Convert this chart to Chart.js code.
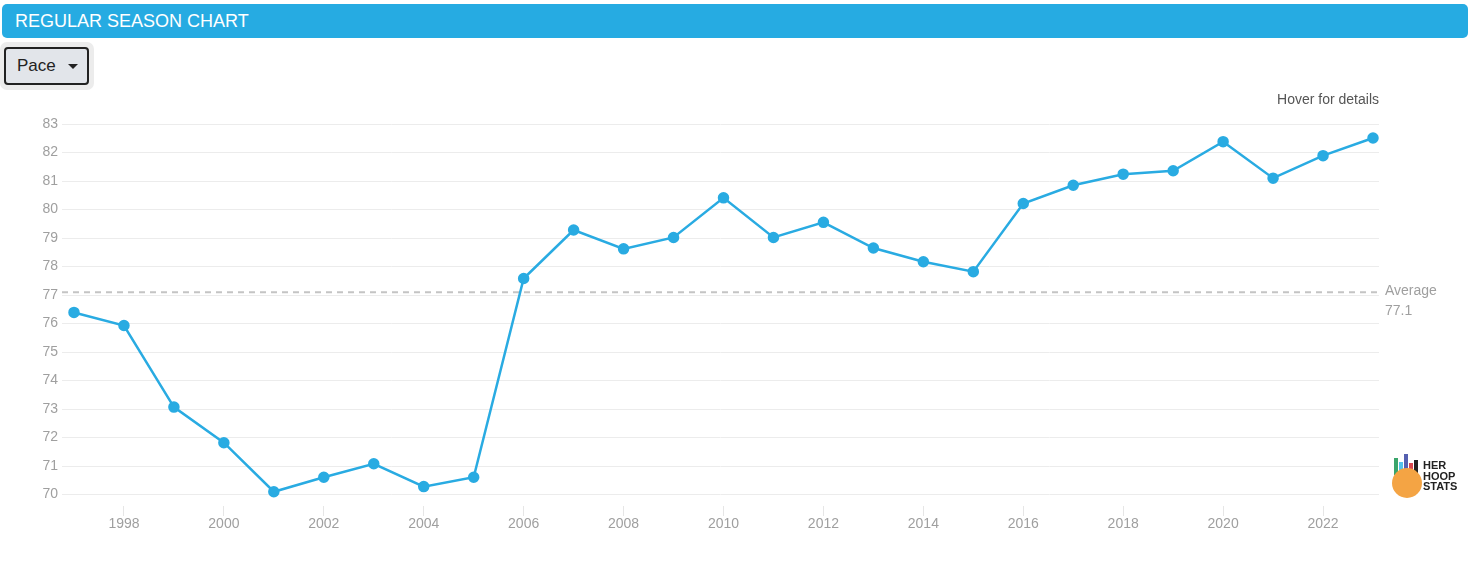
<!DOCTYPE html>
<html>
<head>
<meta charset="utf-8">
<script src="https://cdn.jsdelivr.net/npm/chart.js@4.4.1/dist/chart.umd.min.js"></script>
<style>
  body { margin: 0; background: #fff; font-family: "Liberation Sans", Arial, sans-serif; }
  #wrap { position: relative; width: 1470px; height: 561px; overflow: hidden; }
  #chartBox { position: absolute; left: 0; top: 0; width: 1470px; height: 561px; }
  .header {
    position: absolute; left: 2px; top: 4px; width: 1466px; height: 34px;
    background: #26abe2; border-radius: 5px; color: #fff;
    font-size: 18px; line-height: 34px; padding-left: 13px; box-sizing: border-box;
  }
  .halo {
    position: absolute; left: 0; top: 42px; width: 94px; height: 48px;
    background: #ececec; border-radius: 7px;
  }
  .btn {
    position: absolute; left: 4px; top: 47px; width: 85px; height: 38px;
    background: #e2e5ea; border: 2px solid #222; border-radius: 4px; box-sizing: border-box;
    font-size: 17px; color: #222; line-height: 34px; padding-left: 11px;
  }
  .caret {
    position: absolute; left: 62px; top: 15px; width: 0; height: 0;
    border-left: 5px solid transparent; border-right: 5px solid transparent; border-top: 5px solid #222;
  }
  .hover { position: absolute; right: 91px; top: 91px; font-size: 14px; color: #555; }
  .logo { position: absolute; left: 1392px; top: 452px; width: 70px; height: 50px; }
  .logo .bar { position: absolute; width: 4px; bottom: 27px; }
  .logo .ball {
    position: absolute; left: 0; top: 16px; width: 30px; height: 30px; border-radius: 50%;
    background: #f4a444; overflow: hidden;
  }
  .logo .txt {
    position: absolute; left: 31px; top: 8px; font-size: 11px; font-weight: bold; line-height: 10.5px; color: #222;
  }
</style>
</head>
<body>
<div id="wrap">
  <div id="chartBox"><canvas id="paceChart"></canvas></div>
  <div class="header">REGULAR SEASON CHART</div>
  <div class="halo"></div>
  <div class="btn">Pace<span class="caret"></span></div>
  <div class="hover">Hover for details</div>
  <div class="logo">
    <div class="bar" style="left:2px;height:17px;background:#3aa56b"></div>
    <div class="bar" style="left:7px;height:13px;background:#55c3ea"></div>
    <div class="bar" style="left:12px;height:21px;background:#5560b0"></div>
    <div class="bar" style="left:17px;height:12px;background:#d9474f"></div>
    <div class="bar" style="left:22px;height:15px;background:#222"></div>
    <div class="ball"></div>
    <div class="txt">HER<br>HOOP<br>STATS</div>
  </div>
</div>
<script>
const seasons = [1997, 1998, 1999, 2000, 2001, 2002, 2003, 2004, 2005, 2006, 2007, 2008, 2009,
  2010, 2011, 2012, 2013, 2014, 2015, 2016, 2017, 2018, 2019, 2020, 2021, 2022, 2023];
const pace = [76.39, 75.93, 73.07, 71.82, 70.10, 70.61, 71.08, 70.28, 70.61, 77.58, 79.28, 78.62, 79.02,
  80.41, 79.02, 79.55, 78.65, 78.17, 77.82, 80.21, 80.85, 81.24, 81.36, 82.38, 81.10, 81.89, 82.51];
const average = 77.1;
const yearTicks = [1998, 2000, 2002, 2004, 2006, 2008, 2010, 2012, 2014, 2016, 2018, 2020, 2022];
const paceTicks = [70, 71, 72, 73, 74, 75, 76, 77, 78, 79, 80, 81, 82, 83];

const xMin = 1996.76, xMax = 2023.12;

// label for the average line, right of the plot
const avgLabel = {
  id: 'avgLabel',
  afterDraw(chart) {
    const ctx = chart.ctx;
    const y = chart.scales.y.getPixelForValue(average);
    ctx.save();
    ctx.fillStyle = '#9f9f9f';
    ctx.font = '14px "Liberation Sans", Arial, sans-serif';
    ctx.textBaseline = 'middle';
    ctx.textAlign = 'left';
    ctx.fillText('Average', chart.chartArea.right + 6, y - 1);
    ctx.fillText(average.toFixed(1), chart.chartArea.right + 6, y + 19);
    ctx.restore();
  }
};

const ctx = document.getElementById('paceChart').getContext('2d');
const paceChart = new Chart(ctx, {
  type: 'line',
  data: {
    datasets: [{
      label: 'Pace',
      data: seasons.map((s, i) => ({ x: s, y: pace[i] })),
      borderColor: '#29abe2',
      backgroundColor: '#29abe2',
      borderWidth: 2.5,
      pointRadius: 4.5,
      pointHoverRadius: 5,
      tension: 0
    }, {
      label: 'Average',
      data: [{ x: xMin, y: average }, { x: xMax, y: average }],
      borderColor: '#c4c4c4',
      borderWidth: 2,
      borderDash: [6, 5],
      pointRadius: 0,
      fill: false
    }]
  },
  options: {
    responsive: true,
    maintainAspectRatio: false,
    animation: false,
    layout: { padding: { top: 124, right: 91, left: 0, bottom: 0 } },
    plugins: { legend: { display: false }, tooltip: { enabled: false } },
    scales: {
      x: {
        type: 'linear',
        min: xMin,
        max: xMax,
        afterBuildTicks: s => { s.ticks = yearTicks.map(v => ({ value: v })); },
        afterFit: s => { s.height = 55; },
        border: { display: false },
        grid: { drawOnChartArea: false, drawTicks: true, tickLength: 10, color: '#e6e6e6' },
        ticks: {
          color: '#9f9f9f',
          font: { size: 14, family: '"Liberation Sans", Arial, sans-serif' },
          padding: 0,
          maxRotation: 0,
          callback: v => String(v)
        }
      },
      y: {
        min: 69.6,
        max: 83,
        afterBuildTicks: s => { s.ticks = paceTicks.map(v => ({ value: v })); },
        afterFit: s => { s.width = 62; },
        border: { display: false },
        grid: { color: '#ececec', lineWidth: 1, drawTicks: false },
        ticks: {
          color: '#9f9f9f',
          font: { size: 14, family: '"Liberation Sans", Arial, sans-serif' },
          padding: 4
        }
      }
    }
  },
  plugins: [avgLabel]
});
</script>
</body>
</html>
